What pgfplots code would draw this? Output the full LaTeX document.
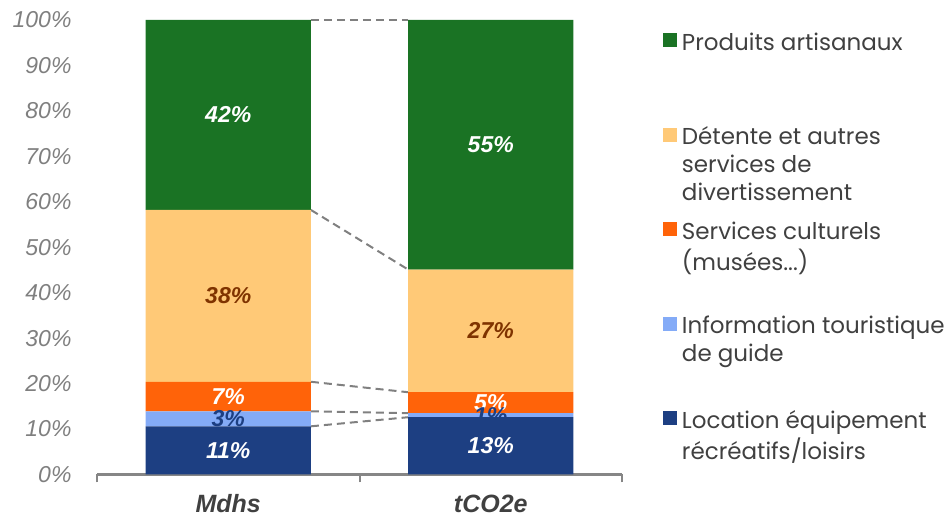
\documentclass[border=0pt]{standalone}
\usepackage{fontspec}
\setmainfont{Liberation Sans}
\newfontfamily\legendfont{Poppins}
\usepackage{pgfplots}
\pgfplotsset{compat=1.18}

\definecolor{cNavy}{HTML}{1D3F82}
\definecolor{cLight}{HTML}{84ABF7}
\definecolor{cOrange}{HTML}{FF6309}
\definecolor{cPeach}{HTML}{FFC977}
\definecolor{cGreen}{HTML}{1A7324}
\definecolor{cBrown}{HTML}{7F3300}
\definecolor{tickgray}{HTML}{7F7F7F}
\definecolor{axgray}{HTML}{868686}
\definecolor{dashgray}{HTML}{808080}
\definecolor{legtext}{HTML}{404040}
\definecolor{cattext}{HTML}{404040}

% legend entries: up to three lines
\newcommand{\legtxt}[3]{\parbox[t]{270pt}{\strut #1\\\strut #2\\\strut #3}}

\pgfplotsset{
  seg/.style={fill=#1, draw=none,
    legend image code/.code={%
      \path[draw=none, fill=none] (0pt,-70pt) -- (0pt,17pt);
      \fill[#1] (0pt,3pt) rectangle (14pt,17pt);}},
  lab/.style={every node near coord/.append style={text=#1}},
}

\begin{document}
\begin{tikzpicture}
\useasboundingbox (0,0) rectangle (952pt,518pt);

% dashed connectors between segment boundaries
\begin{axis}[
  at={(97pt,43.5pt)}, anchor=south west,
  scale only axis, width=525pt, height=454.5pt,
  xmin=-0.5, xmax=1.5, ymin=0, ymax=100,
  hide axis, clip=false,
]
\addplot[dashgray, line width=2pt, dash pattern=on 8pt off 5pt] coordinates {(0.315,10.6) (0.685,12.6)};
\addplot[dashgray, line width=2pt, dash pattern=on 8pt off 5pt] coordinates {(0.315,13.9) (0.685,13.5)};
\addplot[dashgray, line width=2pt, dash pattern=on 8pt off 5pt] coordinates {(0.315,20.4) (0.685,18.1)};
\addplot[dashgray, line width=2pt, dash pattern=on 8pt off 5pt] coordinates {(0.315,58.2) (0.685,45.1)};
\addplot[dashgray, line width=2pt, dash pattern=on 8pt off 5pt] coordinates {(0.315,100) (0.685,100)};
\end{axis}

\begin{axis}[
  at={(97pt,43.5pt)}, anchor=south west,
  scale only axis, width=525pt, height=454.5pt,
  xmin=-0.5, xmax=1.5, ymin=0, ymax=100,
  ybar stacked, bar width=0.63,
  axis x line*=bottom, axis y line*=left,
  y axis line style={draw=none},
  x axis line style={-, axgray, line width=2.2pt},
  ytick={0,10,...,100},
  yticklabel={\pgfmathprintnumber{\tick}\%},
  ytick style={draw=none},
  yticklabel style={font=\fontsize{23}{23}\selectfont\itshape, text=tickgray, xshift=-22pt},
  xtick={0,1}, xticklabels={Mdhs,tCO2e},
  major tick length=0pt,
  minor xtick={-0.5,0.5,1.5},
  minor tick length=8pt,
  tick align=outside,
  minor x tick style={axgray, line width=2pt},
  xticklabel style={font=\fontsize{25}{25}\selectfont\bfseries\itshape, text=cattext,
    inner sep=0pt, yshift=-20pt},
  /pgf/number format/assume math mode=true,
  clip=false,
  point meta=explicit,
  nodes near coords={\pgfmathprintnumber{\pgfplotspointmeta}\%},
  every node near coord/.append style={anchor=center,
    font=\fontsize{23}{23}\selectfont\bfseries\itshape},
  reverse legend,
  legend style={draw=none, fill=none, inner sep=0pt, outer sep=0pt,
    at={(1.078,0.977)}, anchor=north west,
    row sep=5pt, column sep=5pt,
    font=\fontsize{23}{28}\selectfont\legendfont,
    cells={anchor=base west},
    nodes={text=legtext, inner sep=0pt}},
]
\addplot[seg=cNavy, lab=white] coordinates {(0,10.6) [11] (1,12.6) [13]};
\addlegendentry{\legtxt{Location équipement}{récréatifs/loisirs}{}}
\addplot[seg=cLight, lab=cNavy] coordinates {(0,3.3) [3] (1,0.9) [1]};
\addlegendentry{\legtxt{Information touristique}{de guide}{}}
\addplot[seg=cOrange, lab=white] coordinates {(0,6.5) [7] (1,4.6) [5]};
\addlegendentry{\legtxt{Services culturels}{(musées...)}{}}
\addplot[seg=cPeach, lab=cBrown] coordinates {(0,37.8) [38] (1,27.0) [27]};
\addlegendentry{\legtxt{Détente et autres}{services de}{divertissement}}
\addplot[seg=cGreen, lab=white] coordinates {(0,41.8) [42] (1,54.9) [55]};
\addlegendentry{\legtxt{Produits artisanaux}{}{}}
\end{axis}
\end{tikzpicture}
\end{document}
